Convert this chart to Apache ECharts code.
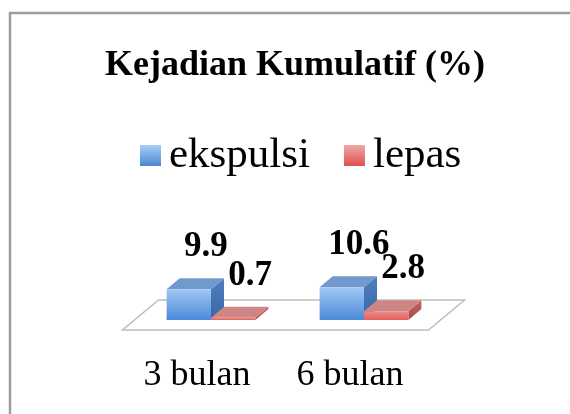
<!DOCTYPE html>
<html>
<head>
<meta charset="utf-8">
<script src="https://cdn.jsdelivr.net/npm/echarts@6/dist/echarts.min.js"></script>
<style>
  html, body { margin: 0; padding: 0; background: #fff; }
  #main { width: 570px; height: 414px; }
</style>
</head>
<body>
<div id="main"></div>
<script>
// data
var categories = ['3 bulan', '6 bulan'];
var ekspulsi = [9.9, 10.6];
var lepas = [0.7, 2.8];

var FONT = '"Liberation Serif", "DejaVu Serif", serif';
var DX = 13, DY = -11;   // depth of a bar
var BAR = 0.29;          // bar width as share of the band

function grad(a, b) {
	return new echarts.graphic.LinearGradient(0, 0, 0, 1, [{offset: 0, color: a}, {offset: 1, color: b}]);
}

var looks = {
	ekspulsi: {front: grad('#a2c8f4', '#4a89da'), top: '#7299cd', side: grad('#4f7fbf', '#3a66a4'), shift: -1},
	lepas: {front: grad('#ee8a88', '#e0605d'), top: '#cf8583', side: grad('#bf6461', '#a94b48'), shift: 0}
};

function barItem(name) {
	var look = looks[name];
	return function(params, api) {
		var val = api.value(1);
		var band = api.size([1, 0])[0];
		var w = band * BAR;
		var c = api.coord([api.value(0), val]);
		var base = api.coord([api.value(0), 0])[1];
		var x0 = c[0] + look.shift * w;
		var yt = c[1];
		return {
			type: 'group',
			children: [
				{type: 'polygon', shape: {points: [[x0 + w, yt], [x0 + w, base], [x0 + w + DX, base + DY], [x0 + w + DX, yt + DY]]}, style: {fill: look.side}},
				{type: 'polygon', shape: {points: [[x0, yt], [x0 + w, yt], [x0 + w + DX, yt + DY], [x0 + DX, yt + DY]]}, style: {fill: look.top}},
				{type: 'rect', shape: {x: x0, y: yt, width: w, height: base - yt}, style: {fill: look.front}},
				{type: 'text', x: x0 + w / 2 + 17, y: yt - 42, z2: 10,
					style: {text: String(val), font: 'bold 35px ' + FONT, fill: '#000', align: 'center', verticalAlign: 'middle'}}
			]
		};
	};
}

function floorItem(params, api) {
	var cs = params.coordSys;
	var y = api.coord([0, 0])[1];
	var l = cs.x, r = cs.x + cs.width;
	return {
		type: 'polygon',
		shape: {points: [[l - 12, y + 10], [r - 12, y + 10], [r + 24, y - 20], [l + 24, y - 20]]},
		style: {fill: '#fff', stroke: '#bdbdbd', lineWidth: 1.5}
	};
}

var chart = echarts.init(document.getElementById('main'));
chart.setOption({
	backgroundColor: '#fff',
	animation: false,
	title: {
		text: 'Kejadian Kumulatif (%)',
		left: 290,
		textAlign: 'center',
		top: 43,
		textStyle: {fontFamily: FONT, fontSize: 36, fontWeight: 'bold', color: '#000'}
	},
	legend: {
		data: ['ekspulsi', 'lepas'],
		left: 140,
		top: 134,
		padding: 0,
		icon: 'rect',
		itemWidth: 21,
		itemHeight: 21,
		itemGap: 34,
		textStyle: {fontFamily: FONT, fontSize: 43, color: '#000', padding: [0, 0, 0, 3]}
	},
	graphic: [{
		type: 'rect',
		shape: {x: 10, y: 13, width: 600, height: 450},
		style: {fill: null, stroke: '#9c9c9c', lineWidth: 2.5},
		silent: true
	}],
	grid: {left: 134.5, right: 129.5, top: 258, bottom: 94},
	xAxis: {
		type: 'category',
		data: categories,
		axisLine: {show: false},
		axisTick: {show: false},
		axisLabel: {margin: 38, fontFamily: FONT, fontSize: 36, color: '#000', padding: [0, 28, 0, 0]}
	},
	yAxis: {
		type: 'value',
		min: 0,
		max: 20,
		show: false
	},
	series: [
		{name: 'floor', type: 'custom', renderItem: floorItem, data: [[0, 0]], silent: true, z: 1},
		{name: 'ekspulsi', type: 'custom', renderItem: barItem('ekspulsi'), itemStyle: {color: grad('#a8cdf6', '#4a88d3')},
			data: categories.map(function(c, i) { return [i, ekspulsi[i]]; }), z: 2},
		{name: 'lepas', type: 'custom', renderItem: barItem('lepas'), itemStyle: {color: grad('#f3a7a5', '#d9524f')},
			data: categories.map(function(c, i) { return [i, lepas[i]]; }), z: 3}
	]
});
</script>
</body>
</html>
